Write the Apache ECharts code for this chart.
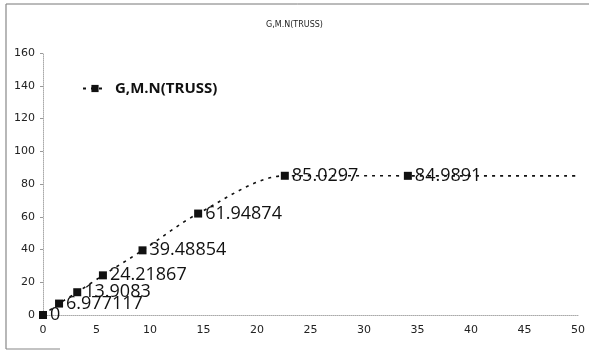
<!DOCTYPE html>
<html>
<head>
<meta charset="utf-8">
<script src="https://cdn.jsdelivr.net/npm/echarts@6/dist/echarts.min.js"></script>
<style>
html,body{margin:0;padding:0;background:#fff;}
#chart{width:589px;height:353px;}
</style>
</head>
<body>
<div id="chart"></div>
<script>
// Displacement (x) and load values for the truss series
const xValues = [0, 1.5, 3.2, 5.6, 9.3, 14.5, 22.6, 34.1, 50];
const loadValues = [0, 6.977117, 13.9083, 24.21867, 39.48854, 61.94874, 85.0297, 84.9891, 84.95];
const labelled = [true, true, true, true, true, true, true, true, false];
const seriesName = 'G,M.N(TRUSS)';
const chartTitle = 'G,M.N(TRUSS)';

const chart = echarts.init(document.getElementById('chart'));

const data = xValues.map((x, i) => ({
  value: [x, loadValues[i]],
  symbol: labelled[i] ? 'rect' : 'none',
  label: { show: labelled[i] }
}));

chart.setOption({
  backgroundColor: '#fff',
  animation: false,
  title: {
    text: chartTitle,
    left: 'center',
    top: 16,
    textStyle: { fontSize: 8, fontWeight: 'normal', color: '#222', fontFamily: 'DejaVu Sans' }
  },
  legend: {
    left: 77,
    top: 76,
    itemWidth: 24,
    itemHeight: 9,
    itemGap: 6,
    textStyle: { fontSize: 15, fontWeight: 'bold', color: '#111', fontFamily: 'Open Sans', padding: [0, 0, 0, 3] },
    data: [seriesName]
  },
  grid: { left: 43, right: 11, top: 53, bottom: 38 },
  xAxis: {
    type: 'value',
    min: 0, max: 50, interval: 5,
    axisLine: { show: true, lineStyle: { color: '#aaa', type: 'dotted', width: 1 } },
    axisTick: { show: false },
    splitLine: { show: false },
    axisLabel: { color: '#222', fontSize: 11, margin: 10, fontFamily: 'DejaVu Sans' }
  },
  yAxis: {
    type: 'value',
    min: 0, max: 160, interval: 20,
    axisLine: { show: true, lineStyle: { color: '#aaa', type: 'dotted', width: 1 } },
    axisTick: { show: true, length: 3, inside: false, lineStyle: { color: '#999' } },
    splitLine: { show: false },
    axisLabel: { color: '#222', fontSize: 11, margin: 8, fontFamily: 'DejaVu Sans' }
  },
  graphic: [
    { type: 'line', shape: { x1: 6, y1: 4, x2: 589, y2: 4 }, style: { stroke: '#777', lineWidth: 1 } },
    { type: 'line', shape: { x1: 6, y1: 4, x2: 6, y2: 349 }, style: { stroke: '#888', lineWidth: 1.2 } },
    { type: 'line', shape: { x1: 6, y1: 349, x2: 60, y2: 349 }, style: { stroke: '#888', lineWidth: 1.2 } }
  ],
  series: [{
    name: seriesName,
    type: 'line',
    smooth: 0.3,
    data: data,
    symbol: 'rect',
    symbolSize: 8,
    itemStyle: { color: '#111' },
    lineStyle: { color: '#111', width: 1.6, type: [3, 5] },
    label: {
      show: true,
      position: 'right',
      distance: 3,
      fontSize: 18,
      color: '#111',
      fontFamily: 'Open Sans',
      formatter: p => String(p.value[1])
    }
  }]
});
</script>
</body>
</html>
